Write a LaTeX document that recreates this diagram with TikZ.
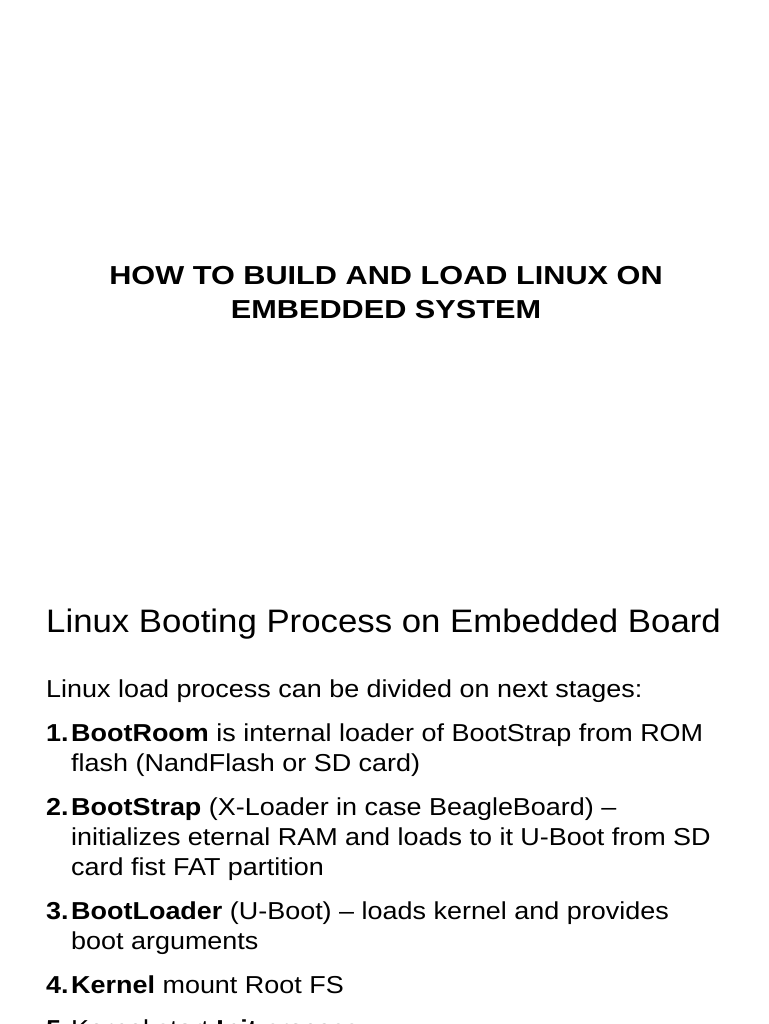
\documentclass[tikz,border=0pt]{standalone}
\usepackage{fontspec}
\setmainfont{Liberation Sans}
\newfontfamily\ttlfont[FakeStretch=1.18]{Liberation Sans}
\newfontfamily\hdfont[FakeStretch=1.07]{Liberation Sans}
\newfontfamily\bdfont[FakeStretch=1.10]{Liberation Sans}
\begin{document}
\begin{tikzpicture}[x=1pt,y=-1pt,
  ttl/.style={anchor=base,font=\ttlfont\fontsize{26}{30}\selectfont\bfseries},
  hd/.style={anchor=base west,font=\hdfont\fontsize{32.5}{36}\selectfont},
  bd/.style={anchor=base west,font=\bdfont\fontsize{24.5}{30}\selectfont,inner sep=0pt},
  num/.style={anchor=base west,font=\bdfont\fontsize{24.5}{30}\selectfont\bfseries,inner sep=0pt}]
\useasboundingbox (0,0) rectangle (768,1024);
\clip (0,0) rectangle (768,1024);
\fill[white] (0,0) rectangle (768,1024);
\node[ttl] (t1) at (386,284) {HOW TO BUILD AND LOAD LINUX ON};
\node[ttl] (t2) at (386,318) {EMBEDDED SYSTEM};
\node[hd,inner sep=0pt] (h) at (46,632) {Linux Booting Process on Embedded Board};
\node[bd] (intro) at (46,697) {Linux load process can be divided on next stages:};
\node[num] (n1) at (46,741) {1.};
\node[bd] (a1) at (71,741) {\textbf{BootRoom} is internal loader of BootStrap from ROM};
\node[bd] (a1b) at (71,771) {flash (NandFlash or SD card)};
\node[num] (n2) at (46,815) {2.};
\node[bd] (a2) at (71,815) {\textbf{BootStrap} (X-Loader in case BeagleBoard) –};
\node[bd] (a2b) at (71,845) {initializes eternal RAM and loads to it U-Boot from SD};
\node[bd] (a2c) at (71,875) {card fist FAT partition};
\node[num] (n3) at (46,919) {3.};
\node[bd] (a3) at (71,919) {\textbf{BootLoader} (U-Boot) – loads kernel and provides};
\node[bd] (a3b) at (71,949) {boot arguments};
\node[num] (n4) at (46,993) {4.};
\node[bd] (a4) at (71,993) {\textbf{Kernel} mount Root FS};
\node[num] (n5) at (46,1037) {5.};
\node[bd] (a5) at (71,1037) {Kernel start \textbf{Init} process};
\end{tikzpicture}
\end{document}
